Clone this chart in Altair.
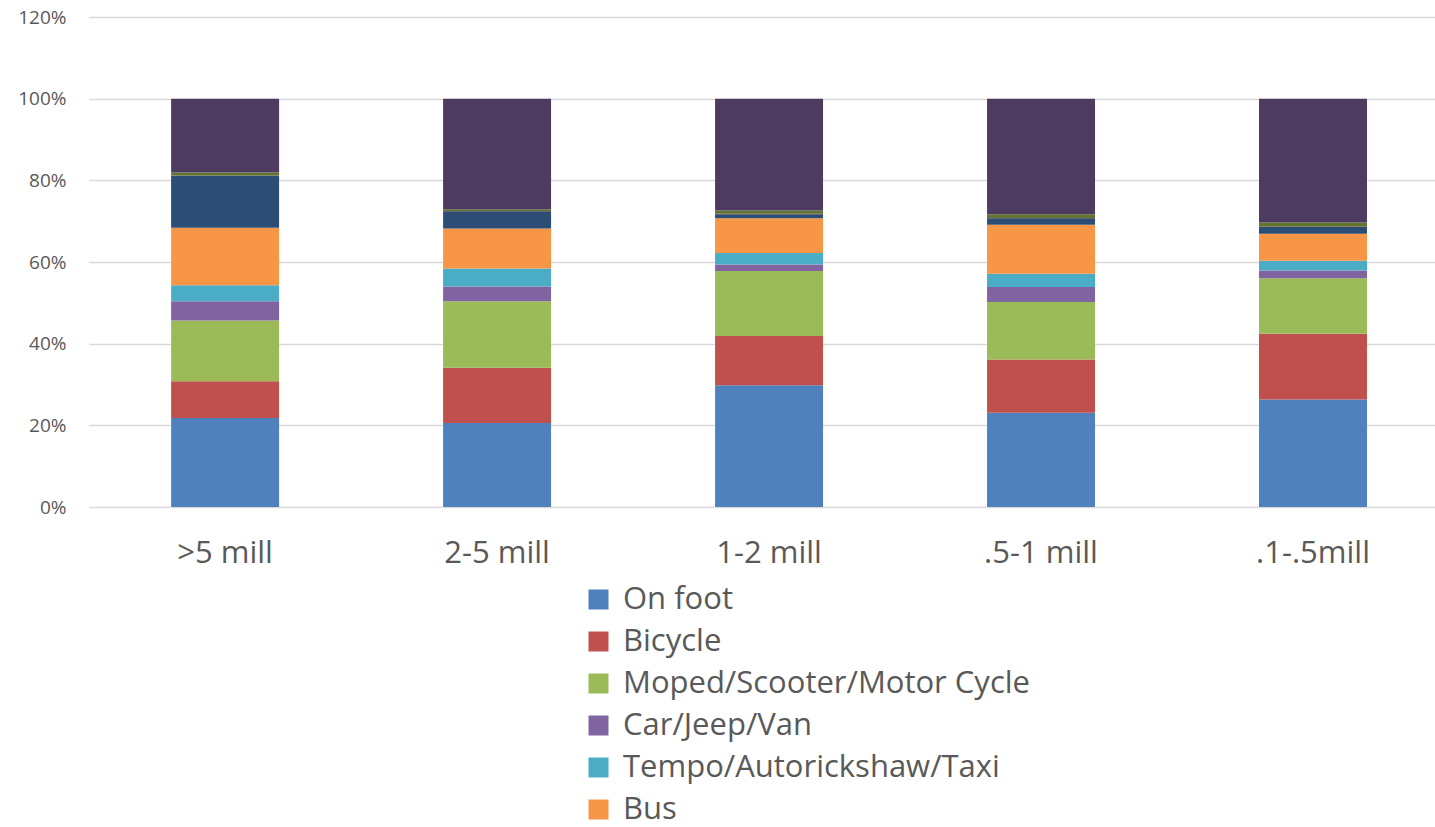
import altair as alt
import pandas as pd

categories = [">5 mill", "2-5 mill", "1-2 mill", ".5-1 mill", ".1-.5mill"]
series = [
    "On foot",
    "Bicycle",
    "Moped/Scooter/Motor Cycle",
    "Car/Jeep/Van",
    "Tempo/Autorickshaw/Taxi",
    "Bus",
    "Train",
    "Water transport",
    "Any other",
    "No travel",
]
on_foot = [21.8, 20.6, 29.8, 23.1, 26.3]
bicycle = [9.0, 13.5, 12.1, 13.0, 16.1]
moped = [14.9, 16.3, 15.9, 14.1, 13.6]
car = [4.7, 3.6, 1.6, 3.7, 1.9]
tempo = [3.9, 4.4, 2.8, 3.2, 2.4]
bus = [14.1, 9.8, 8.5, 12.0, 6.6]
train = [12.7, 4.2, 1.0, 1.6, 1.7]
water = [0.1, 0.1, 0.1, 0.1, 0.1]
other = [0.7, 0.4, 0.8, 0.9, 1.0]
no_travel = [18.1, 27.1, 27.4, 28.3, 30.3]
values = [on_foot, bicycle, moped, car, tempo, bus, train, water, other, no_travel]
colors = ["#4F81BD", "#C0504D", "#9BBB59", "#8064A2", "#4BACC6", "#F79646",
          "#2C4D75", "#772C2A", "#5F7530", "#4D3B62"]

rows = []
for si, (name, vals) in enumerate(zip(series, values)):
    for ci, cat in enumerate(categories):
        rows.append({"city": cat, "mode": name, "idx": si, "share": vals[ci] / 100.0})
df = pd.DataFrame(rows)

FONT = "Open Sans"
TXT = "#595959"

chart = alt.Chart(df).mark_bar().encode(
    x=alt.X(
        "city:N",
        sort=categories,
        scale=alt.Scale(paddingInner=0.603, paddingOuter=0.276, align=0.547),
        axis=alt.Axis(title=None, labelAngle=0, labelFontSize=31, labelColor=TXT,
                      labelFont=FONT, ticks=False, tickSize=0, domain=False,
                      labelPadding=31),
    ),
    y=alt.Y(
        "share:Q",
        stack="zero",
        scale=alt.Scale(domain=[0, 1.2], nice=False),
        axis=alt.Axis(title=None, values=[0, 0.2, 0.4, 0.6, 0.8, 1.0, 1.2], format=".0%",
                      labelFontSize=19, labelColor=TXT, labelFont=FONT, ticks=False,
                      tickSize=0, domain=False, labelPadding=23,
                      gridColor="#d9d9d9", gridWidth=1.5),
    ),
    color=alt.Color(
        "mode:N",
        scale=alt.Scale(domain=series, range=colors),
        legend=alt.Legend(values=series[:6], orient="none", legendX=494, legendY=567,
                          direction="vertical", title=None, symbolType="square",
                          symbolSize=400, symbolStrokeWidth=0, labelFontSize=31,
                          labelFont=FONT, labelColor=TXT, labelLimit=800,
                          labelOffset=9, rowPadding=10),
    ),
    order=alt.Order("idx:Q"),
).properties(
    width=1346,
    height=490,
    padding={"left": 89, "top": 17, "right": 0, "bottom": 320},
    autosize="none",
    background="white",
).configure_view(strokeWidth=0, stroke="transparent")

chart.save("out.html", embed_options={"renderer": "svg", "actions": False})
